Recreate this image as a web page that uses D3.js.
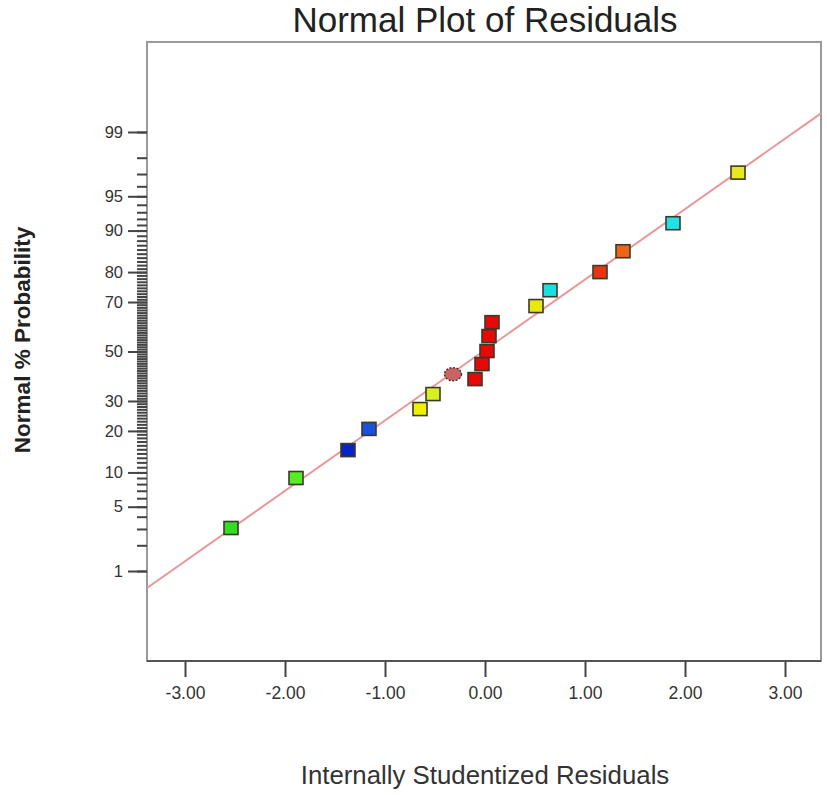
<!DOCTYPE html>
<html>
<head>
<meta charset="utf-8">
<script src="https://cdn.jsdelivr.net/npm/d3@7"></script>
<style>
  html, body { margin: 0; padding: 0; background: #fff; }
  svg { display: block; font-family: Arial, "Liberation Sans", sans-serif; }
</style>
</head>
<body>
<script>
// ---------- data ----------
const residuals = [-2.54, -1.89, -1.37, -1.16, -0.65, -0.52, -0.32, -0.10, -0.03, 0.02, 0.04, 0.07, 0.51, 0.65, 1.15, 1.38, 1.88, 2.53];
const probabilities = [3.07, 9.0, 14.8, 20.6, 27.1, 32.6, 40.5, 38.5, 44.7, 50.2, 56.5, 62.2, 68.5, 74.2, 80.0, 85.6, 91.3, 97.1];
const pointColors = ["#33dd22", "#55ee22", "#0a22cc", "#1a4fe0", "#f0f000", "#d8f020", "#c86464", "#e80808", "#e80808", "#e80808", "#e80808", "#e80808", "#e8e810", "#18e0e0", "#e83410", "#f06418", "#20e0e8", "#e8e820"];
const pointShapes = ["square", "square", "square", "square", "square", "square", "circle", "square", "square", "square", "square", "square", "square", "square", "square", "square", "square", "square"];
const refLineX = [-3.38, 3.36];
const refLineP = [0.61, 99.42];
const xTicks = [-3, -2, -1, 0, 1, 2, 3];
const yMajorTicks = [1, 5, 10, 20, 30, 50, 70, 80, 90, 95, 99];
const yMinorTicks = d3.range(1, 100);
const xDomain = [-3.38, 3.36];
const zDomain = [-3.28, 3.28];
const titleText = "Normal Plot of Residuals";
const xTitle = "Internally Studentized Residuals";
const yTitle = "Normal % Probability";

// inverse normal CDF (Acklam) used as the probability-axis transform
function probit(p) {
  const a = [-3.969683028665376e+01, 2.209460984245205e+02, -2.759285104469687e+02, 1.383577518672690e+02, -3.066479806614716e+01, 2.506628277459239e+00];
  const b = [-5.447609879822406e+01, 1.615858368580409e+02, -1.556989798598866e+02, 6.680131188771972e+01, -1.328068155288572e+01];
  const c = [-7.784894002430293e-03, -3.223964580411365e-01, -2.400758277161838e+00, -2.549732539343734e+00, 4.374664141464968e+00, 2.938163982698783e+00];
  const d = [7.784695709041462e-03, 3.224671290700398e-01, 2.445134137142996e+00, 3.754408661907416e+00];
  const pl = 0.02425, ph = 1 - pl;
  let q, r;
  if (p < pl) {
    q = Math.sqrt(-2 * Math.log(p));
    return (((((c[0]*q+c[1])*q+c[2])*q+c[3])*q+c[4])*q+c[5]) / ((((d[0]*q+d[1])*q+d[2])*q+d[3])*q+1);
  } else if (p <= ph) {
    q = p - 0.5; r = q * q;
    return (((((a[0]*r+a[1])*r+a[2])*r+a[3])*r+a[4])*r+a[5])*q / (((((b[0]*r+b[1])*r+b[2])*r+b[3])*r+b[4])*r+1);
  } else {
    q = Math.sqrt(-2 * Math.log(1 - p));
    return -(((((c[0]*q+c[1])*q+c[2])*q+c[3])*q+c[4])*q+c[5]) / ((((d[0]*q+d[1])*q+d[2])*q+d[3])*q+1);
  }
}

// ---------- layout ----------
const W = 827, H = 795;
const plot = { left: 147, right: 821, top: 42, bottom: 661 };

const svg = d3.select("body").append("svg").attr("width", W).attr("height", H);
svg.append("rect").attr("width", W).attr("height", H).attr("fill", "#fff");

const x = d3.scaleLinear().domain(xDomain).range([plot.left, plot.right]);
const zScale = d3.scaleLinear().domain(zDomain).range([plot.bottom, plot.top]);
const y = p => zScale(probit(p / 100));

// frame
svg.append("rect")
  .attr("x", plot.left).attr("y", plot.top)
  .attr("width", plot.right - plot.left).attr("height", plot.bottom - plot.top)
  .attr("fill", "none").attr("stroke", "#9a9a9a").attr("stroke-width", 2);
svg.append("line")
  .attr("x1", plot.left).attr("x2", plot.right)
  .attr("y1", plot.bottom).attr("y2", plot.bottom)
  .attr("stroke", "#555").attr("stroke-width", 2);

// y axis: probability scale built on a linear z-scale
const probAxisScale = Object.assign(p => y(p), {
  domain: () => [0.001, 99.999],
  range: () => [plot.bottom, plot.top],
  copy: function () { return this; },
  ticks: () => yMinorTicks,
  tickFormat: () => (d => String(d))
});

const gMinor = svg.append("g").attr("transform", `translate(${plot.left},0)`)
  .call(d3.axisLeft(probAxisScale).tickValues(yMinorTicks).tickSize(10).tickFormat(""));
gMinor.select(".domain").remove();
gMinor.selectAll("line").attr("stroke", "#444").attr("stroke-width", 2);

const gMajor = svg.append("g").attr("transform", `translate(${plot.left},0)`)
  .call(d3.axisLeft(probAxisScale).tickValues(yMajorTicks).tickSize(19).tickPadding(5).tickFormat(d => String(d)));
gMajor.select(".domain").remove();
gMajor.selectAll("line").attr("stroke", "#444").attr("stroke-width", 2);
gMajor.selectAll("text").attr("fill", "#333").attr("font-size", 16.5)
  .attr("font-family", "Arial, 'Liberation Sans', sans-serif");

// x axis
const gx = svg.append("g").attr("transform", `translate(0,${plot.bottom})`)
  .call(d3.axisBottom(x).tickValues(xTicks).tickSize(16).tickPadding(10).tickFormat(d => d.toFixed(2)));
gx.select(".domain").remove();
gx.selectAll("line").attr("stroke", "#444").attr("stroke-width", 2);
gx.selectAll("text").attr("fill", "#333").attr("font-size", 17.5)
  .attr("font-family", "Arial, 'Liberation Sans', sans-serif");

// reference line
svg.append("line")
  .attr("x1", x(refLineX[0])).attr("y1", y(refLineP[0]))
  .attr("x2", x(refLineX[1])).attr("y2", y(refLineP[1]))
  .attr("stroke", "#e89898").attr("stroke-width", 2);

// points
const pts = residuals.map((r, i) => ({ r, p: probabilities[i], c: pointColors[i], s: pointShapes[i] }));
const gp = svg.append("g");
pts.filter(d => d.s === "square").forEach(d => {
  gp.append("rect")
    .attr("x", x(d.r) - 7).attr("y", y(d.p) - 6.5)
    .attr("width", 14).attr("height", 13)
    .attr("fill", d.c).attr("stroke", "#3a3a2a").attr("stroke-width", 1.6);
});
pts.filter(d => d.s === "circle").forEach(d => {
  gp.append("ellipse")
    .attr("cx", x(d.r)).attr("cy", y(d.p))
    .attr("rx", 8.5).attr("ry", 6.5)
    .attr("fill", d.c).attr("stroke", "#4a3030").attr("stroke-width", 1.4)
    .attr("stroke-dasharray", "2,1.5");
});

// titles
svg.append("text").attr("x", 485).attr("y", 32).attr("text-anchor", "middle")
  .attr("font-size", 35).attr("fill", "#222").text(titleText);
svg.append("text").attr("x", 485).attr("y", 784).attr("text-anchor", "middle")
  .attr("font-size", 25.8).attr("fill", "#333").text(xTitle);
svg.append("text").attr("transform", "translate(30,340) rotate(-90)").attr("text-anchor", "middle")
  .attr("font-size", 22.5).attr("font-weight", "bold").attr("fill", "#222").text(yTitle);
</script>
</body>
</html>
